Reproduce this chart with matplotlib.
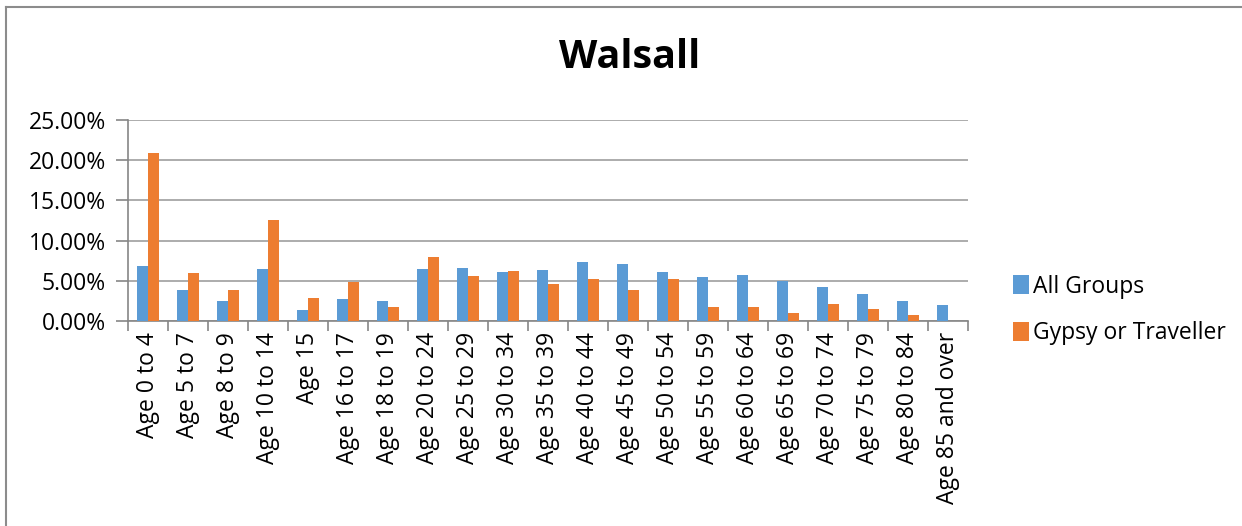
import matplotlib.pyplot as plt
import numpy as np
from matplotlib.lines import Line2D
from matplotlib.ticker import FuncFormatter

plt.rcParams['font.family'] = ['Open Sans', 'DejaVu Sans']

categories = ['Age 0 to 4', 'Age 5 to 7', 'Age 8 to 9', 'Age 10 to 14', 'Age 15',
              'Age 16 to 17', 'Age 18 to 19', 'Age 20 to 24', 'Age 25 to 29',
              'Age 30 to 34', 'Age 35 to 39', 'Age 40 to 44', 'Age 45 to 49',
              'Age 50 to 54', 'Age 55 to 59', 'Age 60 to 64', 'Age 65 to 69',
              'Age 70 to 74', 'Age 75 to 79', 'Age 80 to 84', 'Age 85 and over']

# percentages
all_groups = [6.85, 3.86, 2.45, 6.43, 1.33, 2.70, 2.53, 6.50, 6.60, 6.06, 6.31,
              7.30, 7.14, 6.14, 5.48, 5.68, 4.94, 4.23, 3.40, 2.45, 1.99]
gypsy = [20.95, 5.93, 3.82, 12.60, 2.82, 4.90, 1.74, 8.00, 5.60, 6.27, 4.56,
         5.23, 3.86, 5.23, 1.74, 1.74, 1.04, 2.12, 1.45, 0.70, 0.0]

series_names = ['All Groups', 'Gypsy or Traveller']
BLUE = '#5B9BD5'
ORANGE = '#ED7D31'
GRID = '#a6a6a6'
AXIS = '#868686'

W, H = 1242, 526
fig = plt.figure(figsize=(W / 100, H / 100), dpi=100)
ax = fig.add_axes([128 / W, 1 - 321 / H, (968 - 128) / W, (321 - 120) / H])

x = np.arange(len(categories))
bw = 0.285
ax.bar(x - bw / 2, all_groups, bw, color=BLUE, label=series_names[0], zorder=3)
ax.bar(x + bw / 2, gypsy, bw, color=ORANGE, label=series_names[1], zorder=3)

ax.set_xlim(-0.5, len(categories) - 0.5)
ax.set_ylim(0, 25)
ax.set_yticks(np.arange(0, 26, 5))
ax.yaxis.set_major_formatter(FuncFormatter(lambda v, p: f'{v:.2f}%'))
ax.grid(axis='y', color=GRID, linewidth=1.3, zorder=0)

# category labels between boundary ticks
ax.set_xticks(x)
ax.set_xticklabels(categories, rotation=90, fontsize=16.5)
ax.tick_params(axis='x', length=0, pad=8)
ax.set_xticks(np.arange(-0.5, len(categories)), minor=True)
ax.tick_params(axis='x', which='minor', length=7, color=AXIS, width=1.2)
ax.tick_params(axis='y', length=9, color=AXIS, width=1.2, labelsize=16.5, pad=7)

for s in ['top', 'right']:
    ax.spines[s].set_visible(False)
ax.spines['left'].set_color(AXIS)
ax.spines['bottom'].set_color(AXIS)
ax.spines['left'].set_linewidth(1.2)
ax.spines['bottom'].set_linewidth(1.2)

fig.text(630 / W, 1 - 58 / H, 'Walsall', ha='center', va='center',
         fontsize=28.5, fontweight='bold')

fig.legend(loc='center left', bbox_to_anchor=(992 / W, 1 - 310 / H),
           frameon=False, fontsize=16.5, handlelength=0.7, handleheight=0.9,
           handletextpad=0.2, labelspacing=1.0)

# chart border
fig.add_artist(Line2D([6 / W, 1], [1 - 7 / H, 1 - 7 / H], color='#8c8c8c', lw=1.5))
fig.add_artist(Line2D([6 / W, 6 / W], [0, 1 - 7 / H], color='#8c8c8c', lw=1.5))

fig.savefig('out.png', dpi=100)
